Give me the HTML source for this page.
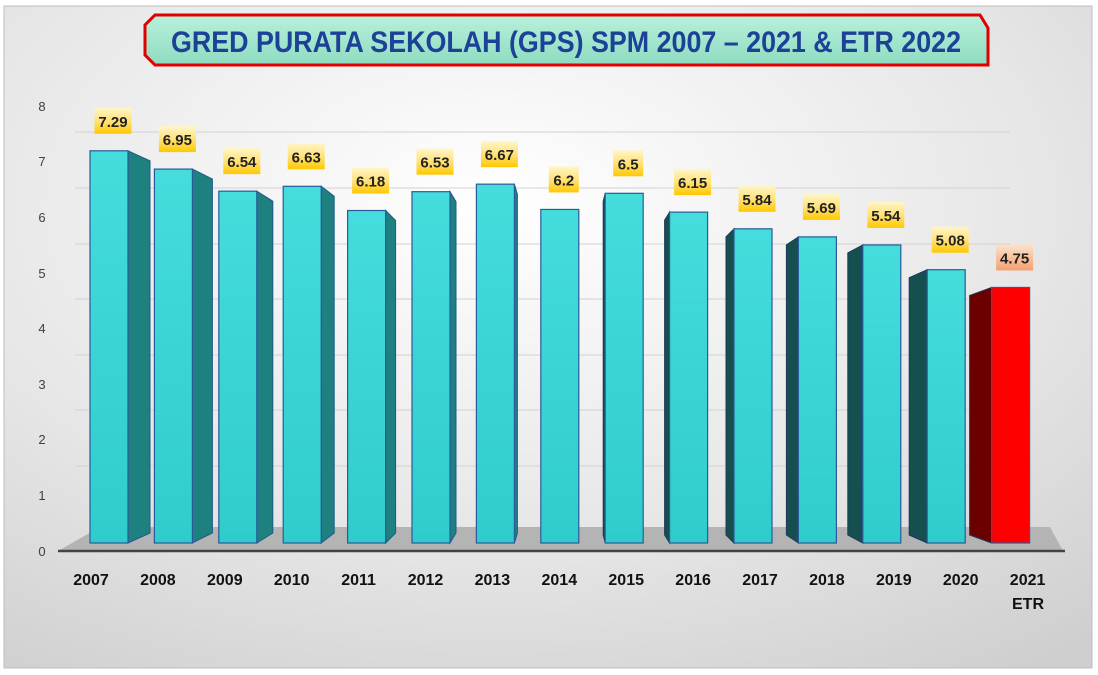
<!DOCTYPE html>
<html><head><style>
html,body{margin:0;padding:0;width:1098px;height:675px;overflow:hidden;background:#fff}
</style></head><body>
<svg width="1098" height="675" viewBox="0 0 1098 675" xmlns="http://www.w3.org/2000/svg" font-family="Liberation Sans, sans-serif">
<defs>
<radialGradient id="bg" cx="0.45" cy="0.3" r="0.85">
<stop offset="0" stop-color="#ffffff"/><stop offset="0.6" stop-color="#e6e6e6"/><stop offset="1" stop-color="#cfcfcf"/>
</radialGradient>
<linearGradient id="tt" x1="0" y1="0" x2="0" y2="1">
<stop offset="0" stop-color="#b8f0dc"/><stop offset="1" stop-color="#8edcc0"/>
</linearGradient>
<linearGradient id="lb" x1="0" y1="0" x2="0" y2="1">
<stop offset="0" stop-color="#fff6c8"/><stop offset="0.5" stop-color="#ffe27a"/><stop offset="1" stop-color="#ffc800"/>
</linearGradient>
<linearGradient id="lr" x1="0" y1="0" x2="0" y2="1">
<stop offset="0" stop-color="#fde2cc"/><stop offset="1" stop-color="#f4a070"/>
</linearGradient>
<linearGradient id="cy" x1="0" y1="0" x2="0" y2="1">
<stop offset="0" stop-color="#45dcdc"/><stop offset="1" stop-color="#30cccc"/>
</linearGradient>
</defs>
<rect x="4" y="6" width="1088" height="662" fill="url(#bg)" stroke="#bdbdbd"/>
<!-- title -->
<polygon points="155,15 980,15 988,28 988,65 155,65 145,55 145,25" fill="url(#tt)" stroke="#e00000" stroke-width="3"/>
<text x="566" y="52" text-anchor="middle" font-size="30" font-weight="bold" fill="#1c4196" textLength="790" lengthAdjust="spacingAndGlyphs">GRED PURATA SEKOLAH (GPS) SPM 2007 – 2021 &amp; ETR 2022</text>
<!-- gridlines -->
<g stroke="#d2d2d2" stroke-width="1">
<line x1="75" y1="132" x2="1010" y2="132"/><line x1="75" y1="188" x2="1010" y2="188"/>
<line x1="75" y1="244" x2="1010" y2="244"/><line x1="75" y1="299" x2="1010" y2="299"/>
<line x1="75" y1="355" x2="1010" y2="355"/><line x1="75" y1="410" x2="1010" y2="410"/>
<line x1="75" y1="466" x2="1010" y2="466"/>
</g>
<!-- floor -->
<polygon points="100,527 1050,527 1063,551 58,551" fill="#b4b4b4"/>
<line x1="58" y1="551" x2="1065" y2="551" stroke="#444" stroke-width="2.5"/>
<!-- y labels -->
<g font-size="13" fill="#404040" text-anchor="middle">
<text x="42" y="111">8</text><text x="42" y="166">7</text><text x="42" y="222">6</text><text x="42" y="278">5</text>
<text x="42" y="333">4</text><text x="42" y="389">3</text><text x="42" y="444">2</text><text x="42" y="500">1</text><text x="42" y="556">0</text>
</g>
<g id="bars"></g>
<g id="labs"></g>
<g font-size="16" font-weight="bold" fill="#111" text-anchor="middle" id="xl"></g>
</svg>
<script>
var vals=[7.29,6.95,6.54,6.63,6.18,6.53,6.67,6.2,6.5,6.15,5.84,5.69,5.54,5.08,4.75];
var sides=[22,20,16,13,10,6,3,0,-2,-5,-8,-12,-15,-18,-22];
var ns="http://www.w3.org/2000/svg";
function el(t,a,p,txt){var e=document.createElementNS(ns,t);for(var k in a)e.setAttribute(k,a[k]);if(txt!==undefined)e.textContent=txt;document.getElementById(p).appendChild(e);return e;}
for(var i=0;i<15;i++){
 var x=90+64.4*i,w=38,b=543,t=b-vals[i]*53.8,s=sides[i],red=i==14;
 if(s>0){el('polygon',{points:(x+w)+','+t+' '+(x+w+s)+','+(t+10)+' '+(x+w+s)+','+(b-10)+' '+(x+w)+','+b,fill:'#1f8080',stroke:'#1d5a8a','stroke-width':1},'bars');}
 if(s<0){el('polygon',{points:x+','+t+' '+(x+s)+','+(t+8)+' '+(x+s)+','+(b-8)+' '+x+','+b,fill:red?'#6a0000':'#164f50',stroke:'#1d3a5a','stroke-width':1},'bars');}
 el('rect',{x:x,y:t,width:w,height:b-t,fill:red?'#ff0000':'url(#cy)',stroke:'#2a5a9a','stroke-width':1.2},'bars');
 var lw=(String(vals[i]).length>3)?37:30,cx=x+w/2+4,by=t-17;
 el('rect',{x:cx-lw/2,y:by-26,width:lw,height:26,fill:red?'url(#lr)':'url(#lb)'},'labs');
 el('text',{x:cx,y:by-7,'text-anchor':'middle','font-size':15,'font-weight':'bold',fill:'#222'},'labs',String(vals[i]));
 el('text',{x:91+66.9*i,y:585},'xl',String(2007+i));
}
el('text',{x:1028,y:609},'xl','ETR');
</script>
</body></html>
